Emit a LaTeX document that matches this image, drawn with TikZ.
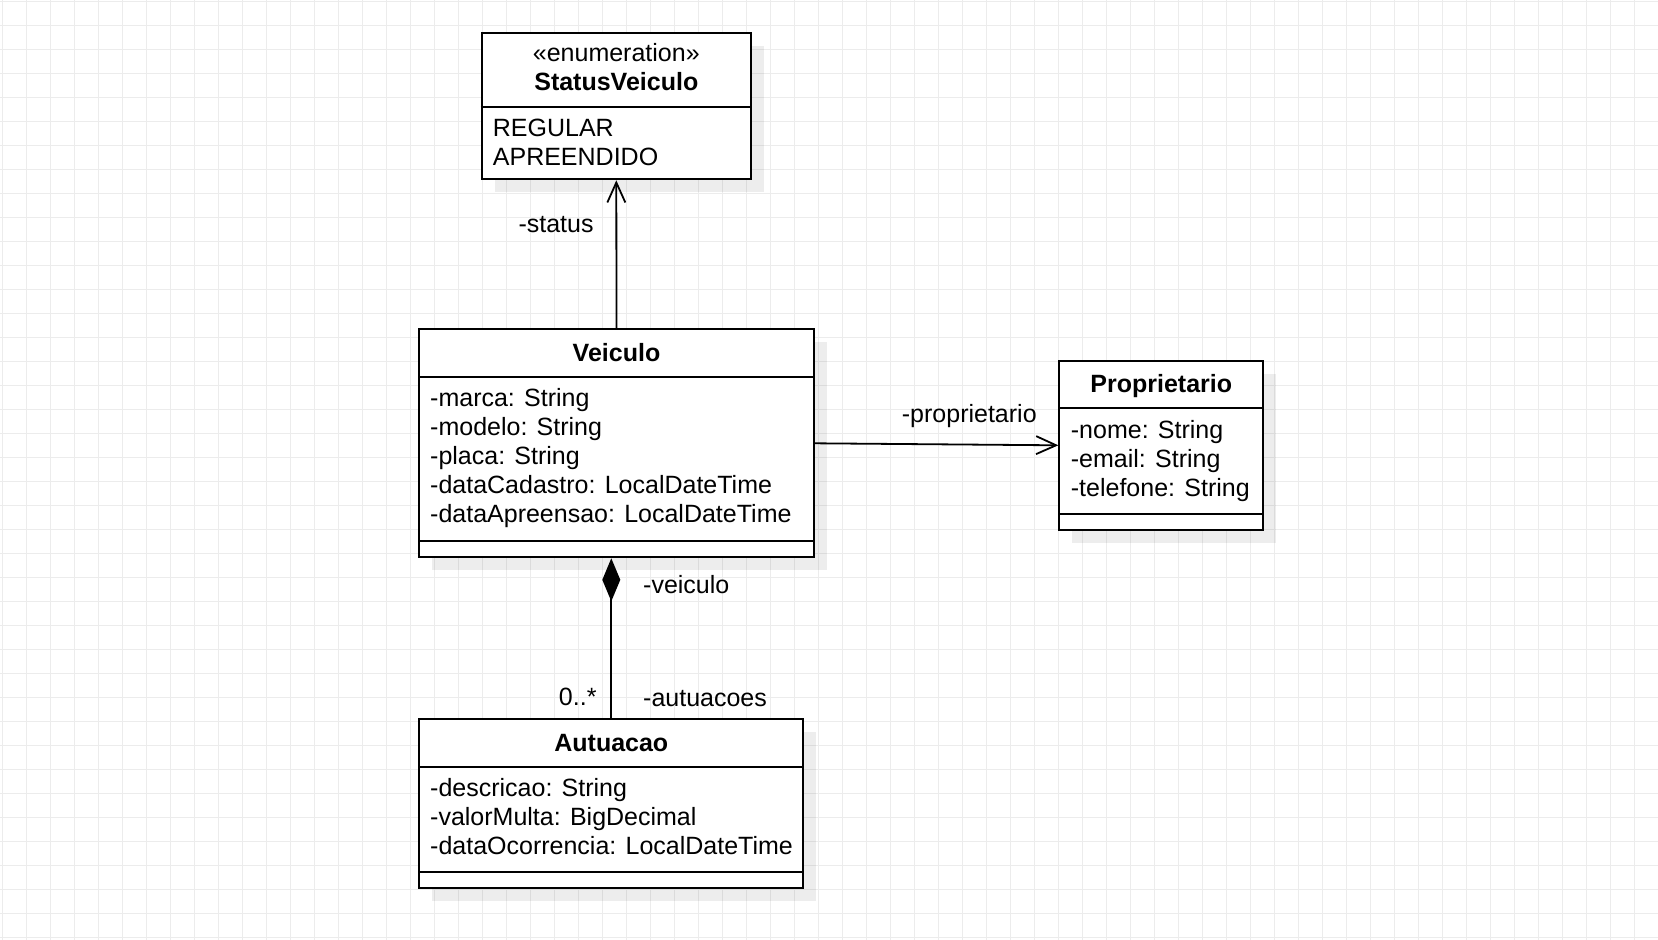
\documentclass[tikz,border=0pt]{standalone}
\usepackage{fontspec}
\setmainfont{Liberation Sans}
\usepackage{tikz}
\usetikzlibrary{arrows.meta,shadows}
\definecolor{gridgray}{RGB}{236,236,236}

\begin{document}
\begin{tikzpicture}[x=1pt,y=-1pt,
  every node/.style={inner sep=0pt, font=\fontsize{25}{29}\selectfont},
  gridline/.style={draw=gridgray, line width=1pt},
  classbox/.style={draw=black, line width=2pt, fill=white,
    drop shadow={shadow xshift=13pt, shadow yshift=-13pt, fill=black, opacity=0.07}},
  sep/.style={line width=2pt},
  assoc/.style={line width=1.8pt, -{Straight Barb[length=20pt,width=18pt]}},
  comp/.style={line width=1.8pt, -{Diamond[length=43pt,width=18pt]}}]
\useasboundingbox (0,0) rectangle (1658,940);
\fill [white] (0,0) rectangle (1658,940);
\foreach \gx in {0,...,69}
  \draw [gridline] (2.7+24*\gx,0) -- (2.7+24*\gx,940);
\foreach \gy in {0,...,39}
  \draw [gridline] (0,1+24*\gy) -- (1658,1+24*\gy);
% class boxes
\node [classbox, minimum width=269.3pt, minimum height=146pt] (status) at (616.3,106.3) {};
\draw [sep] ([yshift=-74.4pt]status.north west) -- ([yshift=-74.4pt]status.north east);
\node [anchor=base] (status-st) at (616.3,61) {«enumeration»};
\node [anchor=base] (status-name) at (616.3,90.7) {\bfseries StatusVeiculo};
\node [anchor=base west, align=left] (status-vals) at (492.7,165) {REGULAR\\APREENDIDO};
\node [classbox, minimum width=395pt, minimum height=228pt] (veiculo) at (616.5,443.3) {};
\draw [sep] ([yshift=-49pt]veiculo.north west) -- ([yshift=-49pt]veiculo.north east);
\draw [sep] ([yshift=17.3pt]veiculo.south west) -- ([yshift=17.3pt]veiculo.south east);
\node [anchor=base] (veiculo-name) at (616.5,361.7) {\bfseries Veiculo};
\node [anchor=base west, align=left] (veiculo-attr) at (430,522.5)
  {-marca: String\\-modelo: String\\-placa: String\\-dataCadastro: LocalDateTime\\-dataApreensao: LocalDateTime};
\node [classbox, minimum width=204pt, minimum height=169.3pt] (proprietario) at (1161.3,445.3) {};
\draw [sep] ([yshift=-48.6pt]proprietario.north west) -- ([yshift=-48.6pt]proprietario.north east);
\draw [sep] ([yshift=17.3pt]proprietario.south west) -- ([yshift=17.3pt]proprietario.south east);
\node [anchor=base] (proprietario-name) at (1161.3,392.7) {\bfseries Proprietario};
\node [anchor=base west, align=left] (proprietario-attr) at (1070.7,496.7)
  {-nome: String\\-email: String\\-telefone: String};
\node [classbox, minimum width=384pt, minimum height=169pt] (autuacao) at (611.3,803.8) {};
\draw [sep] ([yshift=-48.7pt]autuacao.north west) -- ([yshift=-48.7pt]autuacao.north east);
\draw [sep] ([yshift=17.3pt]autuacao.south west) -- ([yshift=17.3pt]autuacao.south east);
\node [anchor=base] (autuacao-name) at (611.3,751.7) {\bfseries Autuacao};
\node [anchor=base west, align=left] (autuacao-attr) at (430,854.3)
  {-descricao: String\\-valorMulta: BigDecimal\\-dataOcorrencia: LocalDateTime};
% associations
\draw [assoc] (veiculo.north) -- (status.south);
\node [anchor=base west] (status-role) at (518.3,232.3) {-status};
\draw [assoc] (veiculo.east) -- (proprietario.west);
\node [anchor=base west] (proprietario-role) at (901.7,422.3) {-proprietario};
\draw [comp] (autuacao.north) -- (autuacao.north |- veiculo.south);
\node [anchor=base west] (veiculo-role) at (643,593.3) {-veiculo};
\node [anchor=base east] (autuacao-mult) at (596.7,705) {0..*};
\node [anchor=base west] (autuacao-role) at (643,706) {-autuacoes};
\end{tikzpicture}
\end{document}
